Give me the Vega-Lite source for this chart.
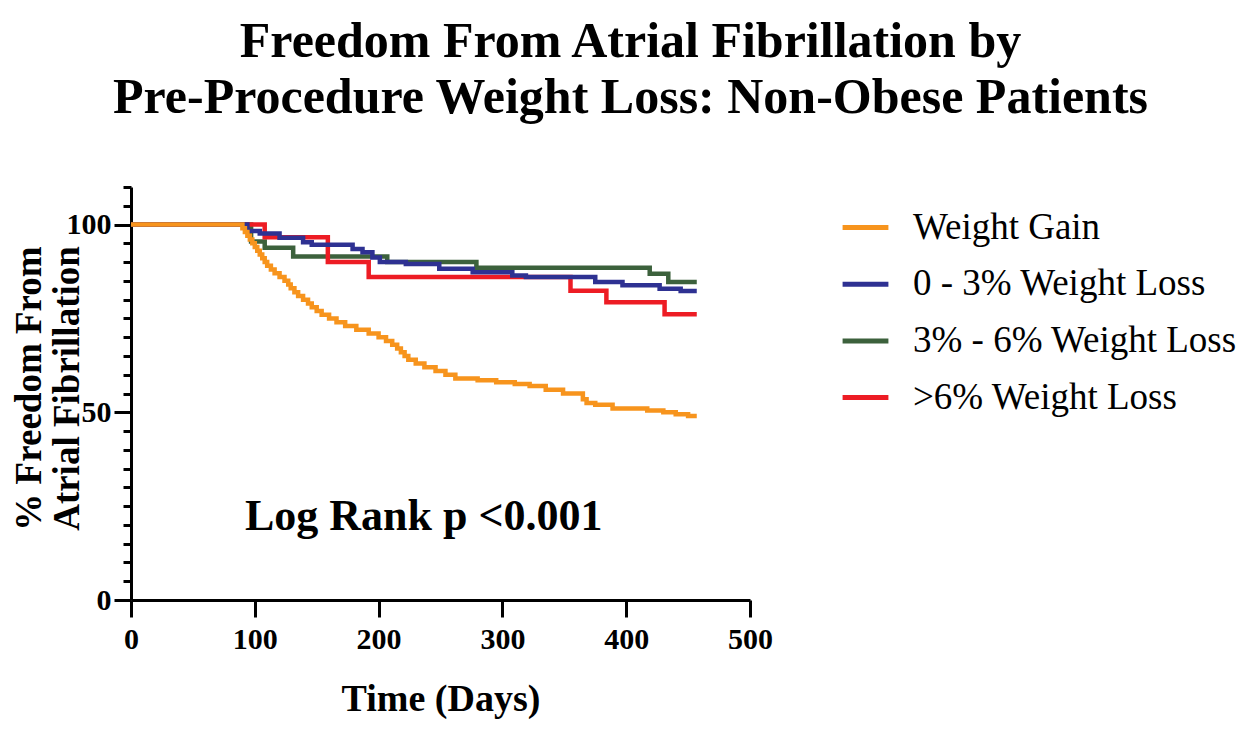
{
  "$schema": "https://vega.github.io/schema/vega-lite/v6.json",
  "width": 619,
  "height": 413,
  "autosize": {"type": "none"},
  "padding": {"left": 131, "top": 187, "right": 510, "bottom": 130},
  "background": "white",
  "config": {"view": {"stroke": null}, "font": "Liberation Serif"},
  "title": {
    "text": ["Freedom From Atrial Fibrillation by", "Pre-Procedure Weight Loss: Non-Obese Patients"],
    "font": "Liberation Serif",
    "fontSize": 50,
    "fontWeight": "bold",
    "color": "black",
    "anchor": "middle",
    "frame": "group",
    "dx": 190,
    "lineHeight": 56,
    "offset": 49
  },
  "resolve": {"axis": {"x": "independent", "y": "independent"}},
  "layer": [
    {
      "data": {
        "values": [
          {"group": "3% - 6% Weight Loss", "day": 0, "pct": 100},
          {"group": "3% - 6% Weight Loss", "day": 97, "pct": 95.5},
          {"group": "3% - 6% Weight Loss", "day": 108, "pct": 93.8},
          {"group": "3% - 6% Weight Loss", "day": 131, "pct": 91.5},
          {"group": "3% - 6% Weight Loss", "day": 207, "pct": 90},
          {"group": "3% - 6% Weight Loss", "day": 279, "pct": 88.5},
          {"group": "3% - 6% Weight Loss", "day": 419, "pct": 86.9},
          {"group": "3% - 6% Weight Loss", "day": 434, "pct": 84.7},
          {"group": "3% - 6% Weight Loss", "day": 457, "pct": 84.7},
          {"group": ">6% Weight Loss", "day": 0, "pct": 100},
          {"group": ">6% Weight Loss", "day": 108, "pct": 96.6},
          {"group": ">6% Weight Loss", "day": 159, "pct": 90},
          {"group": ">6% Weight Loss", "day": 192, "pct": 86},
          {"group": ">6% Weight Loss", "day": 355, "pct": 82.4},
          {"group": ">6% Weight Loss", "day": 384, "pct": 79.3},
          {"group": ">6% Weight Loss", "day": 431, "pct": 76.1},
          {"group": ">6% Weight Loss", "day": 457, "pct": 76.1},
          {"group": "0 - 3% Weight Loss", "day": 0, "pct": 100},
          {"group": "0 - 3% Weight Loss", "day": 94, "pct": 98.3},
          {"group": "0 - 3% Weight Loss", "day": 104, "pct": 97.6},
          {"group": "0 - 3% Weight Loss", "day": 120, "pct": 96.5},
          {"group": "0 - 3% Weight Loss", "day": 139, "pct": 95.3},
          {"group": "0 - 3% Weight Loss", "day": 146, "pct": 94.6},
          {"group": "0 - 3% Weight Loss", "day": 179, "pct": 93.5},
          {"group": "0 - 3% Weight Loss", "day": 187, "pct": 92.6},
          {"group": "0 - 3% Weight Loss", "day": 195, "pct": 91.2},
          {"group": "0 - 3% Weight Loss", "day": 201, "pct": 90},
          {"group": "0 - 3% Weight Loss", "day": 222, "pct": 89.5},
          {"group": "0 - 3% Weight Loss", "day": 249, "pct": 88.2},
          {"group": "0 - 3% Weight Loss", "day": 276, "pct": 87.3},
          {"group": "0 - 3% Weight Loss", "day": 308, "pct": 86.4},
          {"group": "0 - 3% Weight Loss", "day": 319, "pct": 86},
          {"group": "0 - 3% Weight Loss", "day": 375, "pct": 84.7},
          {"group": "0 - 3% Weight Loss", "day": 397, "pct": 83.8},
          {"group": "0 - 3% Weight Loss", "day": 427, "pct": 82.9},
          {"group": "0 - 3% Weight Loss", "day": 444, "pct": 82.3},
          {"group": "0 - 3% Weight Loss", "day": 457, "pct": 82.3},
          {"group": "Weight Gain", "day": 0, "pct": 100},
          {"group": "Weight Gain", "day": 90, "pct": 99},
          {"group": "Weight Gain", "day": 92, "pct": 98},
          {"group": "Weight Gain", "day": 94, "pct": 97},
          {"group": "Weight Gain", "day": 96, "pct": 96},
          {"group": "Weight Gain", "day": 98, "pct": 95},
          {"group": "Weight Gain", "day": 100, "pct": 94},
          {"group": "Weight Gain", "day": 102, "pct": 93},
          {"group": "Weight Gain", "day": 104, "pct": 92},
          {"group": "Weight Gain", "day": 106, "pct": 91},
          {"group": "Weight Gain", "day": 108, "pct": 90},
          {"group": "Weight Gain", "day": 110, "pct": 89},
          {"group": "Weight Gain", "day": 113, "pct": 88},
          {"group": "Weight Gain", "day": 116, "pct": 87},
          {"group": "Weight Gain", "day": 120, "pct": 86},
          {"group": "Weight Gain", "day": 124, "pct": 85},
          {"group": "Weight Gain", "day": 127, "pct": 84},
          {"group": "Weight Gain", "day": 129, "pct": 83},
          {"group": "Weight Gain", "day": 132, "pct": 82},
          {"group": "Weight Gain", "day": 135, "pct": 81},
          {"group": "Weight Gain", "day": 139, "pct": 80},
          {"group": "Weight Gain", "day": 143, "pct": 79},
          {"group": "Weight Gain", "day": 146, "pct": 78},
          {"group": "Weight Gain", "day": 150, "pct": 77},
          {"group": "Weight Gain", "day": 154, "pct": 76},
          {"group": "Weight Gain", "day": 160, "pct": 75},
          {"group": "Weight Gain", "day": 166, "pct": 74},
          {"group": "Weight Gain", "day": 173, "pct": 73},
          {"group": "Weight Gain", "day": 182, "pct": 72},
          {"group": "Weight Gain", "day": 192, "pct": 71},
          {"group": "Weight Gain", "day": 200, "pct": 70},
          {"group": "Weight Gain", "day": 206, "pct": 69},
          {"group": "Weight Gain", "day": 211, "pct": 68},
          {"group": "Weight Gain", "day": 215, "pct": 67},
          {"group": "Weight Gain", "day": 218, "pct": 66},
          {"group": "Weight Gain", "day": 221, "pct": 65},
          {"group": "Weight Gain", "day": 224, "pct": 64},
          {"group": "Weight Gain", "day": 230, "pct": 63},
          {"group": "Weight Gain", "day": 237, "pct": 62},
          {"group": "Weight Gain", "day": 246, "pct": 61},
          {"group": "Weight Gain", "day": 254, "pct": 60},
          {"group": "Weight Gain", "day": 262, "pct": 59},
          {"group": "Weight Gain", "day": 280, "pct": 58.5},
          {"group": "Weight Gain", "day": 295, "pct": 58},
          {"group": "Weight Gain", "day": 310, "pct": 57.5},
          {"group": "Weight Gain", "day": 322, "pct": 57},
          {"group": "Weight Gain", "day": 335, "pct": 56},
          {"group": "Weight Gain", "day": 349, "pct": 55},
          {"group": "Weight Gain", "day": 365, "pct": 53.5},
          {"group": "Weight Gain", "day": 368, "pct": 52.5},
          {"group": "Weight Gain", "day": 375, "pct": 52},
          {"group": "Weight Gain", "day": 389, "pct": 51},
          {"group": "Weight Gain", "day": 417, "pct": 50.5},
          {"group": "Weight Gain", "day": 430, "pct": 50},
          {"group": "Weight Gain", "day": 440, "pct": 49.5},
          {"group": "Weight Gain", "day": 450, "pct": 49},
          {"group": "Weight Gain", "day": 457, "pct": 49}
        ]
      },
      "mark": {"type": "line", "interpolate": "step-after", "strokeWidth": 4.5},
      "encoding": {
        "x": {
          "field": "day",
          "type": "quantitative",
          "scale": {"domain": [0, 500], "nice": false},
          "axis": {
            "values": [0, 100, 200, 300, 400, 500],
            "grid": false,
            "domainColor": "black",
            "domainWidth": 3,
            "tickColor": "black",
            "tickWidth": 3,
            "tickSize": 17,
            "labelFont": "Liberation Serif",
            "labelFontWeight": "bold",
            "labelFontSize": 30,
            "labelColor": "black",
            "labelPadding": 7,
            "labelFlush": false,
            "title": "Time (Days)",
            "titleFont": "Liberation Serif",
            "titleFontWeight": "bold",
            "titleFontSize": 38,
            "titleColor": "black",
            "titleBaseline": "top",
            "titleY": 80
          }
        },
        "y": {
          "field": "pct",
          "type": "quantitative",
          "scale": {"domain": [0, 110], "nice": false},
          "axis": {
            "values": [0, 5, 10, 15, 20, 25, 30, 35, 40, 45, 50, 55, 60, 65, 70, 75, 80, 85, 90, 95, 100, 105, 110],
            "labelExpr": "datum.value % 50 === 0 ? datum.label : ''",
            "labelOverlap": false,
            "grid": false,
            "domainColor": "black",
            "domainWidth": 3,
            "tickColor": "black",
            "tickWidth": 3,
            "tickSize": {"condition": {"test": "datum.value % 50 !== 0", "value": 8}, "value": 17},
            "labelFont": "Liberation Serif",
            "labelFontWeight": "bold",
            "labelFontSize": 30,
            "labelColor": "black",
            "labelPadding": 3,
            "labelFlush": false,
            "title": ["% Freedom From", "Atrial Fibrillation"],
            "titleFont": "Liberation Serif",
            "titleFontWeight": "bold",
            "titleFontSize": 37,
            "titleColor": "black",
            "titleLineHeight": 38,
            "titleAngle": -90,
            "titleBaseline": "bottom",
            "titleAlign": "center",
            "titleX": -83,
            "titleY": 201
          }
        },
        "color": {
          "field": "group",
          "type": "nominal",
          "sort": null,
          "scale": {
            "domain": ["Weight Gain", "0 - 3% Weight Loss", "3% - 6% Weight Loss", ">6% Weight Loss"],
            "range": ["#F7941D", "#2E3192", "#3C613C", "#ED1C24"]
          },
          "legend": {
            "orient": "none",
            "legendX": 709,
            "legendY": 15,
            "title": null,
            "padding": 0,
            "symbolType": "stroke",
            "symbolSize": 2100,
            "symbolStrokeWidth": 5,
            "labelFont": "Liberation Serif",
            "labelFontSize": 37,
            "labelColor": "black",
            "labelOffset": 22,
            "labelLimit": 0,
            "rowPadding": 12.7
          }
        }
      }
    },
    {
      "data": {"values": [{"label": "Log Rank p <0.001"}]},
      "mark": {"type": "text", "align": "left", "baseline": "alphabetic", "font": "Liberation Serif", "fontWeight": "bold", "fontSize": 44, "color": "black"},
      "encoding": {
        "x": {"datum": 92, "type": "quantitative", "axis": null},
        "y": {"datum": 18.6, "type": "quantitative", "axis": null},
        "text": {"field": "label"}
      }
    }
  ]
}
